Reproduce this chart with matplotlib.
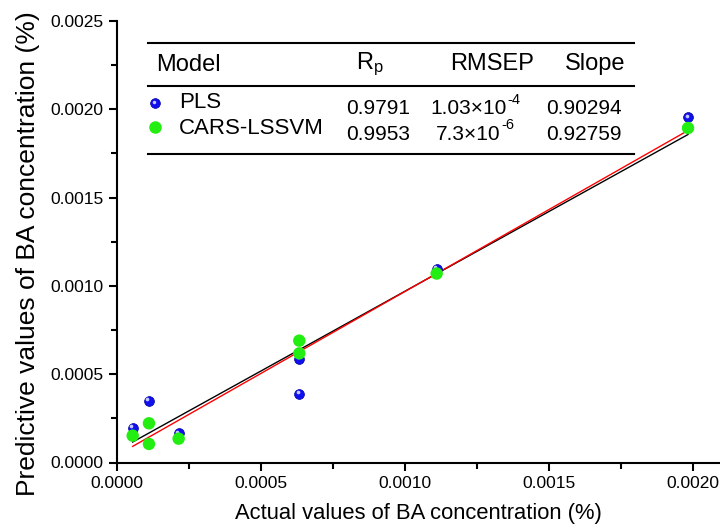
import numpy as np
import matplotlib
matplotlib.use("Agg")
import matplotlib.pyplot as plt
from matplotlib.ticker import MultipleLocator, FormatStrFormatter
from matplotlib.transforms import offset_copy

plt.rcParams['font.family'] = ['Liberation Sans', 'DejaVu Sans']
plt.rcParams['mathtext.fontset'] = 'custom'
plt.rcParams['mathtext.rm'] = 'Liberation Sans'
plt.rcParams['mathtext.it'] = 'Liberation Sans'

# PLS data (actual, predicted)
pls_actual = [0.0000545, 0.000111, 0.000214, 0.000633, 0.000633, 0.00111, 0.001983]
pls_pred = [0.000197, 0.000350, 0.000165, 0.000388, 0.000586, 0.001096, 0.001955]
# CARS-LSSVM data
cars_actual = [0.0000545, 0.000111, 0.000111, 0.000214, 0.000633, 0.000633, 0.00111, 0.001983]
cars_pred = [0.000152, 0.000222, 0.000105, 0.000135, 0.000690, 0.000618, 0.001070, 0.001894]

# Fit lines (slope, intercept)
pls_fit = [0.90294, 0.0000668]
cars_fit = [0.92759, 0.0000408]

models = ["PLS", "CARS-LSSVM"]
rp = ["0.9791", "0.9953"]
rmsep_base = ["1.03\u00d710", "7.3\u00d710"]
rmsep_exp = ["-4", "-6"]
slopes = ["0.90294", "0.92759"]

W, H = 720, 527
fig = plt.figure(figsize=(7.2, 5.27), dpi=100)
ax = fig.add_axes([117 / W, 1 - 462.5 / H, 603 / W, 441.5 / H])
ax.set_xlim(0, 0.002094)
ax.set_ylim(0, 0.0025)

# fit lines
xs = np.array([min(pls_actual), max(pls_actual)])
ax.plot(xs, pls_fit[0] * xs + pls_fit[1], color='black', lw=1.0, zorder=2)
ax.plot(xs, cars_fit[0] * xs + cars_fit[1], color='red', lw=1.0, zorder=2)

# PLS spheres
ax.scatter(pls_actual, pls_pred, s=50, color='#1010ee', edgecolors='#0000a0', linewidths=0.5, zorder=3)
hl = offset_copy(ax.transData, fig=fig, x=-1.1, y=1.1, units='points')
ax.scatter(pls_actual, pls_pred, s=7, color='#c8c8ff', transform=hl, zorder=4, linewidths=0)
# CARS circles
ax.scatter(cars_actual, cars_pred, s=80, color='#22ee11', edgecolors='none', zorder=5)

for s in ['top', 'right']:
    ax.spines[s].set_visible(False)
for s in ['left', 'bottom']:
    ax.spines[s].set_linewidth(1.5)

ax.xaxis.set_major_locator(MultipleLocator(0.0005))
ax.xaxis.set_minor_locator(MultipleLocator(0.00025))
ax.yaxis.set_major_locator(MultipleLocator(0.0005))
ax.yaxis.set_minor_locator(MultipleLocator(0.00025))
ax.xaxis.set_major_formatter(FormatStrFormatter('%.4f'))
ax.yaxis.set_major_formatter(FormatStrFormatter('%.4f'))
ax.tick_params(which='major', direction='out', length=6, width=1.5, labelsize=12.5)
ax.tick_params(which='minor', direction='out', length=4, width=1.5)

ax.set_xlabel('Actual values of BA concentration (%)', fontsize=15.8, labelpad=9)
ax.set_ylabel('Predictive values of BA concentration (%)', fontsize=19)
ax.yaxis.set_label_coords(-0.128, 0.474)

def fx(x):
    return x / W

def fy(y):
    return 1 - y / H

# table lines
for y in [42.5, 86.5, 153.5]:
    fig.add_artist(plt.Line2D([fx(148), fx(634)], [fy(y), fy(y)], color='black', lw=1.5))

fig.text(fx(156), fy(65), 'Model', fontsize=17, va='center', ha='left')
fig.text(fx(370), fy(64), r'R$_\mathregular{p}$', fontsize=17, va='center', ha='center')
fig.text(fx(492), fy(64), 'RMSEP', fontsize=17, va='center', ha='center')
fig.text(fx(595), fy(64), 'Slope', fontsize=17, va='center', ha='center')

row_y = [103, 128]
val_y = [109, 134]
base_x = [430, 436]
for i in range(2):
    fig.text(fx(179), fy(row_y[i]), models[i], fontsize=16, va='center', ha='left')
    fig.text(fx(378), fy(val_y[i]), rp[i], fontsize=15, va='center', ha='center')
    t = fig.text(fx(base_x[i]), fy(val_y[i]), rmsep_base[i], fontsize=15, va='center', ha='left')
    fig.canvas.draw()
    bb = t.get_window_extent()
    fig.text(bb.x1 / W + 0.5 / W, fy(val_y[i] - 9), rmsep_exp[i], fontsize=10.5, va='center', ha='left')
    fig.text(fx(584), fy(val_y[i]), slopes[i], fontsize=15, va='center', ha='center')

fig.add_artist(plt.Line2D([fx(155)], [fy(103)], marker='o', ms=7, color='#1010ee', mec='#0000a0', mew=0.5, ls='none'))
fig.add_artist(plt.Line2D([fx(154)], [fy(102)], marker='o', ms=2.5, color='#c8c8ff', mew=0, ls='none'))
fig.add_artist(plt.Line2D([fx(155)], [fy(127)], marker='o', ms=9, color='#22ee11', mew=0, ls='none'))

fig.savefig('out.png', dpi=100)
